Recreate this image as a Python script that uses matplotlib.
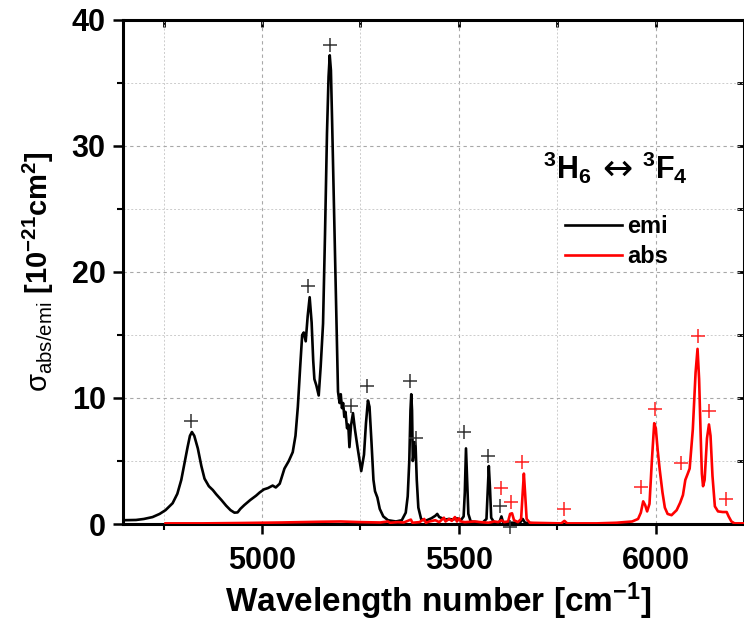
import matplotlib
matplotlib.use("Agg")
import matplotlib.pyplot as plt
from matplotlib.ticker import MultipleLocator

plt.rcParams['font.family'] = ['Liberation Sans', 'DejaVu Sans']
plt.rcParams['mathtext.fontset'] = 'custom'
plt.rcParams['mathtext.rm'] = 'Liberation Sans'
plt.rcParams['mathtext.it'] = 'Liberation Sans:italic'
plt.rcParams['mathtext.bf'] = 'Liberation Sans:bold'
plt.rcParams['mathtext.sf'] = 'Liberation Sans'

# ---------------- data ----------------
emi_wn = [4647, 4680, 4700, 4722, 4740, 4755, 4773, 4785, 4795, 4803, 4811, 4817, 4822, 4828,
          4837, 4846, 4854, 4865, 4875, 4884, 4897, 4909, 4920, 4930, 4938, 4945, 4955, 4970,
          4985, 4994, 5005, 5015, 5027, 5035, 5045, 5057, 5068, 5078, 5085, 5091, 5097, 5102,
          5106, 5111, 5116, 5121, 5126, 5130, 5133, 5138, 5141, 5144, 5149, 5155, 5160, 5165,
          5169, 5172, 5175, 5178, 5184, 5189, 5193, 5197, 5200, 5203, 5206, 5209, 5212, 5216,
          5219, 5222, 5226, 5231, 5236, 5243, 5252, 5259, 5264, 5269, 5273, 5278, 5283, 5287,
          5293, 5299, 5308, 5320, 5340, 5355, 5365, 5370, 5374, 5377, 5379, 5381, 5383, 5385,
          5388, 5390, 5393, 5397, 5404, 5415, 5430, 5440, 5445, 5450, 5458, 5465, 5475, 5485,
          5495, 5505, 5512, 5515, 5518, 5521, 5524, 5530, 5560, 5570, 5573, 5576, 5579, 5582,
          5590, 5603, 5608, 5612, 5630, 5655, 5662, 5668, 5690]
emi_val = [0.30, 0.32, 0.40, 0.55, 0.80, 1.10, 1.65, 2.40, 3.50, 4.80, 6.10, 7.00, 7.30, 7.00,
           6.00, 4.60, 3.60, 3.00, 2.70, 2.35, 1.90, 1.45, 1.10, 0.90, 0.92, 1.20, 1.50, 1.90,
           2.25, 2.50, 2.75, 2.85, 3.05, 2.90, 3.20, 4.40, 5.00, 5.70, 7.00, 9.30, 12.5, 15.0,
           15.2, 14.5, 16.5, 18.0, 16.0, 13.0, 11.5, 11.0, 10.6, 10.2, 12.5, 15.9, 23.0, 31.0,
           35.5, 37.2, 36.0, 32.0, 23.3, 16.0, 10.5, 9.6, 10.3, 9.2, 9.6, 8.5, 8.9, 7.6,
           7.9, 6.1, 7.8, 8.8, 7.5, 6.0, 4.2, 5.5, 8.0, 9.8, 9.3, 6.5, 3.5, 2.6,
           2.1, 1.2, 0.6, 0.3, 0.2, 0.3, 0.9, 2.2, 5.0, 9.0, 10.3, 9.0, 5.0, 5.5,
           6.5, 6.2, 3.5, 1.3, 0.4, 0.25, 0.45, 0.65, 0.8, 0.55, 0.45, 0.35, 0.4, 0.35,
           0.45, 0.3, 0.6, 2.5, 6.0, 3.5, 0.8, 0.2, 0.1, 0.4, 2.5, 4.6, 2.8, 0.5,
           0.1, 0.15, 0.6, 0.15, 0.1, 0.1, 0.4, 0.1, 0.05]

abs_wn = [4755, 4850, 4950, 5000, 5050, 5100, 5150, 5200, 5250, 5300, 5320, 5325, 5345, 5360,
          5378, 5382, 5400, 5412, 5416, 5425, 5440, 5450, 5462, 5466, 5475, 5482, 5490, 5495,
          5500, 5505, 5515, 5540, 5555, 5575, 5590, 5600, 5608, 5615, 5625, 5630, 5635, 5640,
          5650, 5658, 5662, 5665, 5668, 5672, 5680, 5760, 5768, 5775, 5850, 5900, 5940, 5955,
          5962, 5968, 5973, 5978, 5984, 5990, 5996, 6000, 6005, 6010, 6017, 6023, 6030, 6040,
          6053, 6062, 6069, 6075, 6080, 6086, 6094, 6101, 6106, 6110, 6114, 6117, 6120, 6124,
          6130, 6135, 6139, 6144, 6150, 6158, 6170, 6180, 6185, 6192, 6200, 6226]
abs_val = [0.05, 0.05, 0.08, 0.10, 0.12, 0.15, 0.18, 0.20, 0.15, 0.12, 0.20, 0.10, 0.15, 0.12,
           0.35, 0.10, 0.15, 0.40, 0.10, 0.20, 0.30, 0.15, 0.50, 0.20, 0.40, 0.25, 0.55, 0.20,
           0.45, 0.20, 0.15, 0.20, 0.15, 0.10, 0.20, 0.15, 0.30, 0.15, 0.20, 0.80, 0.85, 0.30,
           0.15, 0.40, 2.50, 4.00, 2.50, 0.40, 0.10, 0.05, 0.25, 0.05, 0.05, 0.10, 0.20, 0.40,
           0.90, 1.80, 1.50, 1.00, 1.60, 5.00, 8.00, 7.60, 5.80, 4.30, 2.50, 1.30, 0.80, 0.70,
           1.10, 1.70, 2.30, 3.50, 3.90, 4.40, 7.50, 12.0, 13.9, 11.5, 7.00, 4.00, 3.00, 3.50,
           6.80, 7.90, 7.00, 3.80, 1.40, 1.00, 0.95, 0.95, 0.60, 0.20, 0.05, 0.05]

emi_peak_wn = [4820, 5116, 5172, 5225, 5266, 5377, 5390, 5512, 5574, 5604, 5630]
emi_peak_val = [8.2, 18.9, 38.0, 9.4, 10.95, 11.35, 6.85, 7.3, 5.4, 1.43, -0.25]

abs_peak_wn = [5608, 5633, 5661, 5767, 5963, 5997, 6065, 6106, 6136, 6178]
abs_peak_val = [2.83, 1.77, 4.94, 1.19, 2.96, 9.1, 4.87, 14.9, 9.0, 2.0]

x_ticks = [5000, 5500, 6000]
y_ticks = [0, 10, 20, 30, 40]

# ---------------- figure ----------------
fig = plt.figure(figsize=(7.44, 6.23), dpi=100)
ax = fig.add_axes([123/744, 1 - 524/623, 1 - 123/744, (524 - 20)/623])

ax.set_xlim(4647, 6224)
ax.set_ylim(0, 40)

ax.set_xticks(x_ticks)
ax.set_yticks(y_ticks)
ax.xaxis.set_minor_locator(MultipleLocator(250))
ax.yaxis.set_minor_locator(MultipleLocator(5))

ax.grid(True, which='major', color='#a8a8a8', linestyle=(0, (3, 3)), linewidth=0.8)
ax.grid(True, which='minor', color='#cccccc', linestyle=(0, (2, 2)), linewidth=0.7)
ax.set_axisbelow(True)

for s in ax.spines.values():
    s.set_linewidth(2.2)

ax.tick_params(which='major', direction='out', length=7.5, width=1.8,
               labelsize=22, pad=5, top=False, right=False)
ax.tick_params(axis='x', which='major', pad=8)
ax.tick_params(which='minor', direction='out', length=4.5, width=1.5, top=False, right=False)
for lab in ax.get_xticklabels() + ax.get_yticklabels():
    lab.set_fontweight('bold')

# inward ticks on top and right
sec_x = ax.secondary_xaxis('top')
sec_x.set_xticks([4750, 5000, 5250, 5500, 5750, 6000])
sec_x.tick_params(direction='in', length=5, width=2, labeltop=False)
sec_x.set_xticklabels([])
sec_y = ax.secondary_yaxis('right')
sec_y.set_yticks([5, 10, 15, 20, 25, 30, 35])
sec_y.tick_params(direction='in', length=5, width=2)
sec_y.set_yticklabels([])

ax.plot(emi_wn, emi_val, color='black', linewidth=1.9, label='emi', zorder=3)
ax.plot(abs_wn, abs_val, color='#ff0000', linewidth=1.9, label='abs', zorder=4)
ax.plot(emi_peak_wn, emi_peak_val, linestyle='none', marker='+', markersize=10,
        markeredgewidth=1.1, color='#333333', zorder=5, clip_on=False)
ax.plot(abs_peak_wn, abs_peak_val, linestyle='none', marker='+', markersize=10,
        markeredgewidth=1.1, color='#ff2020', zorder=5, clip_on=False)

ax.set_xlabel(r'Wavelength number [cm$^{\mathbf{-1}}$]', fontsize=24, fontweight='bold')
ax.xaxis.set_label_coords(0.5 + (438 - 433.5) / 621, -(580 - 524) / 504)
ax.set_ylabel(r'σ$_{\mathrm{abs/emi}}$ $\mathbf{[10^{-21}cm^{2}]}$', fontsize=21)
ax.yaxis.set_label_coords(-(123 - 56) / 621, 0.5)

fig.text(543/744, 1 - 168/623, r'$\mathbf{^{3}H_{6}}$', fontsize=22, ha='left', va='center')
fig.text(617/744, 1 - 170/623, '\u2194', fontsize=26, ha='center', va='center',
         family='DejaVu Sans')
fig.text(642/744, 1 - 168/623, r'$\mathbf{^{3}F_{4}}$', fontsize=22, ha='left', va='center')

leg = ax.legend(loc='upper left', bbox_to_anchor=(565/744, 1 - 215/623),
                bbox_transform=fig.transFigure, frameon=False, fontsize=17,
                handlelength=2.4, handletextpad=0.25, labelspacing=0.3,
                borderpad=0, borderaxespad=0)
for t in leg.get_texts():
    t.set_fontweight('bold')

fig.savefig('out.png', dpi=100)
